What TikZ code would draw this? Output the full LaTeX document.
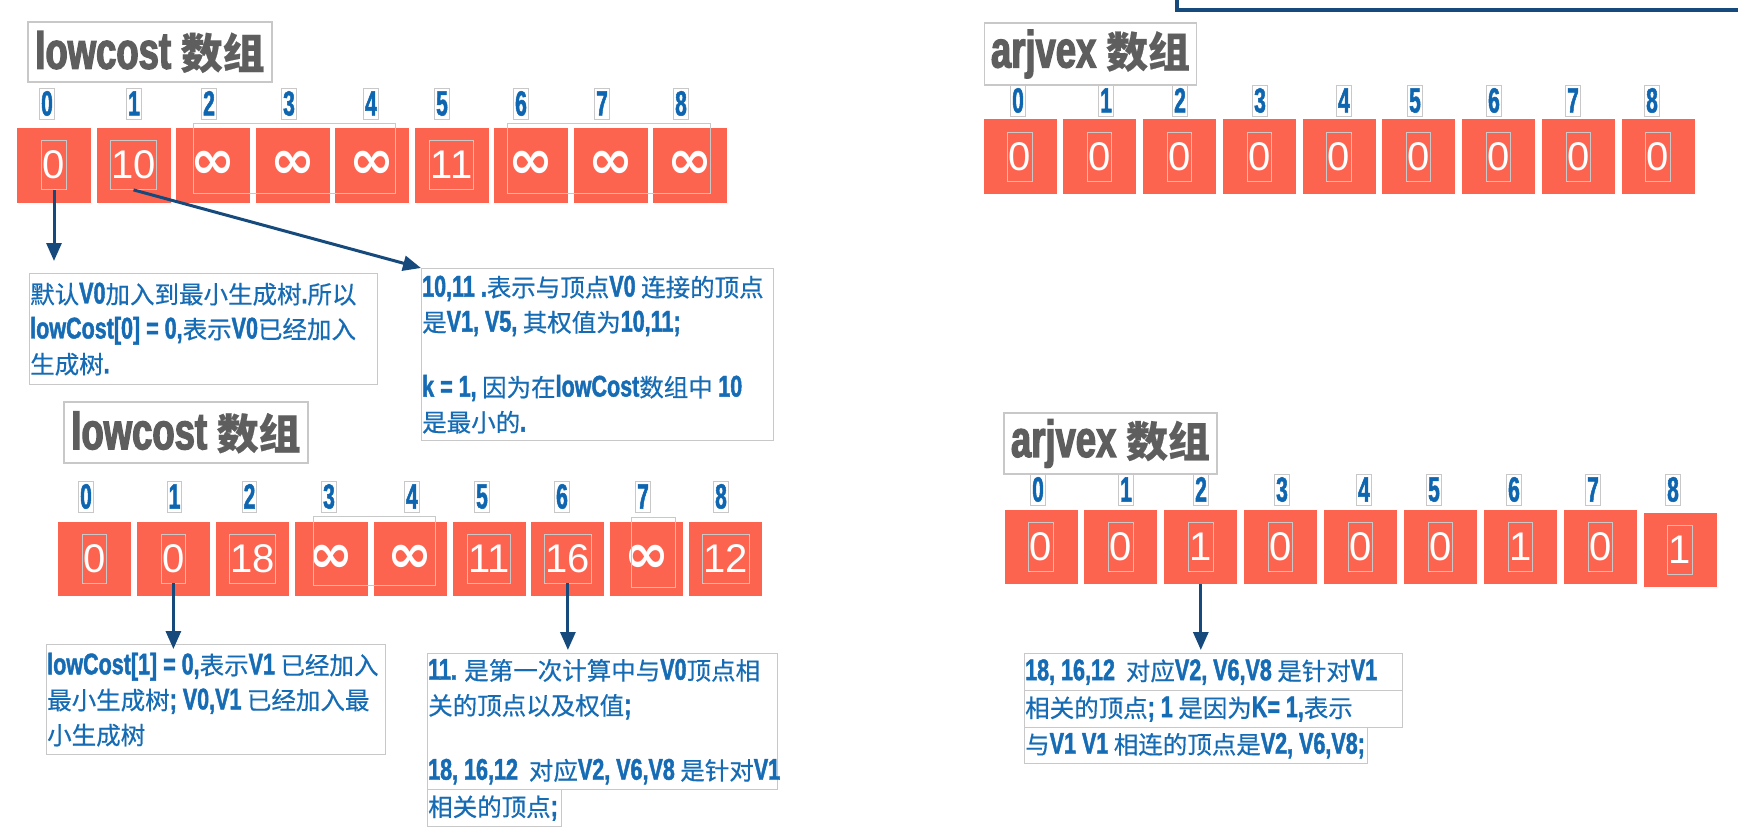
\documentclass[tikz,border=0pt]{standalone}
\usepackage{fontspec}
\setmainfont{Noto Sans CJK SC}[FakeBold=0.5]
\newfontfamily\latb{Liberation Sans}[FakeStretch=0.72,Scale=1.22,FakeBold=1.4]
\newfontfamily\latt{Liberation Sans}[FakeStretch=0.7,Scale=1.24,FakeBold=2.4]
\newfontfamily\latn{Liberation Sans}[FakeStretch=0.6,FakeBold=1.4]
\newfontfamily\valf{Liberation Sans}
\newfontfamily\symf{DejaVu Sans}
\usetikzlibrary{arrows.meta}
\definecolor{cellred}{RGB}{253,100,80}
\definecolor{txtblue}{RGB}{22,108,180}
\definecolor{idxblue}{RGB}{14,102,176}
\definecolor{arrblue}{RGB}{22,74,124}
\definecolor{ttlgray}{RGB}{94,94,94}
\definecolor{boxgray}{RGB}{200,200,200}
\newcommand\e[1]{{\latb\bfseries #1}}
\newcommand\et[1]{{\latt\bfseries #1}}
\newcommand\infsym{{\symf\bfseries\fontsize{54}{54}\selectfont ∞}}
\tikzset{
  cell/.style={rectangle, fill=cellred, minimum width=74pt, minimum height=75pt, inner sep=0pt},
  valn/.style={text=white, font=\valf\fontsize{40}{40}\selectfont, inner sep=1pt, text height=37pt, text depth=10pt},
  valb/.style={valn, draw=boxgray, line width=0.8pt},
  idx/.style={text=idxblue, font=\latn\bfseries\fontsize{35}{35}\selectfont, draw=boxgray, line width=0.8pt, inner xsep=1.5pt, inner ysep=1pt, text height=26pt, text depth=3pt},
  ttl/.style={draw=boxgray, line width=1.2pt, text=ttlgray, font=\bfseries\fontsize{42}{42}\selectfont, inner sep=0pt},
  dbox/.style={draw=boxgray, line width=1.2pt, inner sep=0pt, rectangle, anchor=north west},
  desc/.style={text=txtblue, font=\fontsize{24.5}{35}\selectfont, align=left, inner sep=0pt, anchor=west},
  grp/.style={draw=boxgray, line width=0.8pt},
  arr/.style={draw=arrblue, line width=3pt, -{Triangle[width=15pt,length=18pt]}},
  frame/.style={draw=arrblue, line width=3.5pt}
}
\begin{document}
\begin{tikzpicture}[x=1pt,y=-1pt]
\useasboundingbox (0,0) rectangle (1738,830);
\fill[white] (0,0) rectangle (1738,830);

% partial frame at top right
\draw[frame] (1177,-4) -- (1177,10) -- (1742,10);

% titles
\node[ttl, minimum width=244pt, minimum height=60pt] (t1) at (150,52) {\et{lowcost} 数组};
\node[ttl, minimum width=244pt, minimum height=61pt] (t2) at (186,432.5) {\et{lowcost} 数组};
\node[ttl, minimum width=212pt, minimum height=62pt] (t3) at (1090.5,54) {\et{arjvex} 数组};
\node[ttl, minimum width=213pt, minimum height=61pt] (t4) at (1110.5,443.5) {\et{arjvex} 数组};

% row 1: lowcost
\foreach \v/\s [count=\i from 0] in {0/valb,10/valb,\infsym/valn,\infsym/valn,\infsym/valn,11/valb,\infsym/valn,\infsym/valn,\infsym/valn}{
  \node[cell] (c1-\i) at ({54+79.5*\i},165) {};
  \node[\s] (v1-\i) at (c1-\i) {\v};
}
\foreach \x [count=\i from 0] in {47,134,209,289,371,442,521,602,681}
  \node[idx] (i1-\i) at (\x,104) {\i};
\draw[grp] (193,123) rectangle (395,193);
\draw[grp] (507,123) rectangle (710,193);

% row 2: lowcost
\foreach \v/\s [count=\i from 0] in {0/valb,0/valb,18/valb,\infsym/valn,\infsym/valn,11/valb,16/valb,\infsym/valn,12/valb}{
  \node[cell, minimum width=73pt, minimum height=74pt] (c2-\i) at ({94.5+78.9*\i},558.5) {};
  \node[\s] (v2-\i) at (c2-\i) {\v};
}
\foreach \x [count=\i from 0] in {86,174.5,249.5,329,412,482,562,643,721}
  \node[idx] (i2-\i) at (\x,497) {\i};
\draw[grp] (313,516) rectangle (435,585);
\draw[grp] (631,517) rectangle (675,587);

% row 3: arjvex
\foreach \v [count=\i from 0] in {0,0,0,0,0,0,0,0,0}{
  \node[cell, minimum width=73pt] (c3-\i) at ({1020+79.75*\i},156.5) {};
  \node[valb] (v3-\i) at (c3-\i) {\v};
}
\foreach \x [count=\i from 0] in {1018,1106,1180,1260,1344,1415,1494,1573,1652}
  \node[idx] (i3-\i) at (\x,101) {\i};

% row 4: arjvex
\foreach \v [count=\i from 0] in {0,0,1,0,0,0,1,0}{
  \node[cell, minimum width=73pt, minimum height=74pt] (c4-\i) at ({1041+79.9*\i},546.5) {};
  \node[valb] (v4-\i) at (c4-\i) {\v};
}
\node[cell, minimum width=73pt, minimum height=74pt] (c4-8) at (1680,550) {};
\node[valb] (v4-8) at (c4-8) {1};
\foreach \x [count=\i from 0] in {1038,1126,1201,1282,1364,1434,1514,1593,1673}
  \node[idx] (i4-\i) at (\x,490) {\i};

% description boxes
\node[dbox, minimum width=348pt, minimum height=111pt] (bA) at (29,273) {};
\node[desc] (tA) at ([xshift=1pt]bA.west) {默认\e{V0}加入到最小生成树\e{.}所以\\ \e{lowCost[0] = 0,}表示\e{V0}已经加入\\ 生成树\e{.}};

\node[dbox, minimum width=352pt, minimum height=172pt] (bB) at (421,268) {};
\node[desc] (tB) at ([xshift=1pt]bB.west) {\e{10,11 .}表示与顶点\e{V0} 连接的顶点\\ 是\e{V1, V5,} 其权值为\e{10,11;}\\[30pt] \e{k = 1,} 因为在\e{lowCost}数组中 \e{10}\\ 是最小的\e{.}};

\node[dbox, minimum width=339pt, minimum height=110pt] (bC) at (46,644) {};
\node[desc] (tC) at ([xshift=1pt]bC.west) {\e{lowCost[1] = 0,}表示\e{V1} 已经加入\\ 最小生成树\e{; V0,V1} 已经加入最\\ 小生成树};

\node[dbox, minimum width=350pt, minimum height=136pt] (bD) at (427,653) {};
\node[desc] (tD) at ([xshift=1pt]bD.west) {\e{11.} 是第一次计算中与\e{V0}顶点相\\ 关的顶点以及权值\e{;}\\[30pt] \e{18, 16,12}\ \ 对应\e{V2, V6,V8} 是针对\e{V1}};
\node[dbox, minimum width=134pt, minimum height=37pt] (bD2) at (427,789) {};
\node[desc] (tD2) at ([xshift=1pt]bD2.west) {相关的顶点\e{;}};

\node[dbox, minimum width=378pt, minimum height=37pt] (bE1) at (1024,653) {};
\node[desc] (tE1) at ([xshift=1pt]bE1.west) {\e{18, 16,12}\ \ 对应\e{V2, V6,V8} 是针对\e{V1}};
\node[dbox, minimum width=378pt, minimum height=37pt] (bE2) at (1024,690) {};
\node[desc] (tE2) at ([xshift=1pt]bE2.west) {相关的顶点\e{; 1} 是因为\e{K= 1,}表示};
\node[dbox, minimum width=343pt, minimum height=36pt] (bE3) at (1024,727) {};
\node[desc] (tE3) at ([xshift=1pt]bE3.west) {与\e{V1 V1} 相连的顶点是\e{V2, V6,V8;}};

% arrows
\coordinate (a1) at (v1-0.south |- 0,261);
\draw[arr] (v1-0.south) -- (a1);
\draw[arr] (v1-1.south) -- (bB.north west);
\coordinate (a3) at (v2-1.south |- 0,649);
\draw[arr] (v2-1.south) -- (a3);
\coordinate (a4) at (v2-6.south |- 0,650);
\draw[arr] (v2-6.south) -- (a4);
\coordinate (a5) at (c4-2.south |- 0,650);
\draw[arr] (c4-2.south) -- (a5);
\end{tikzpicture}
\end{document}
